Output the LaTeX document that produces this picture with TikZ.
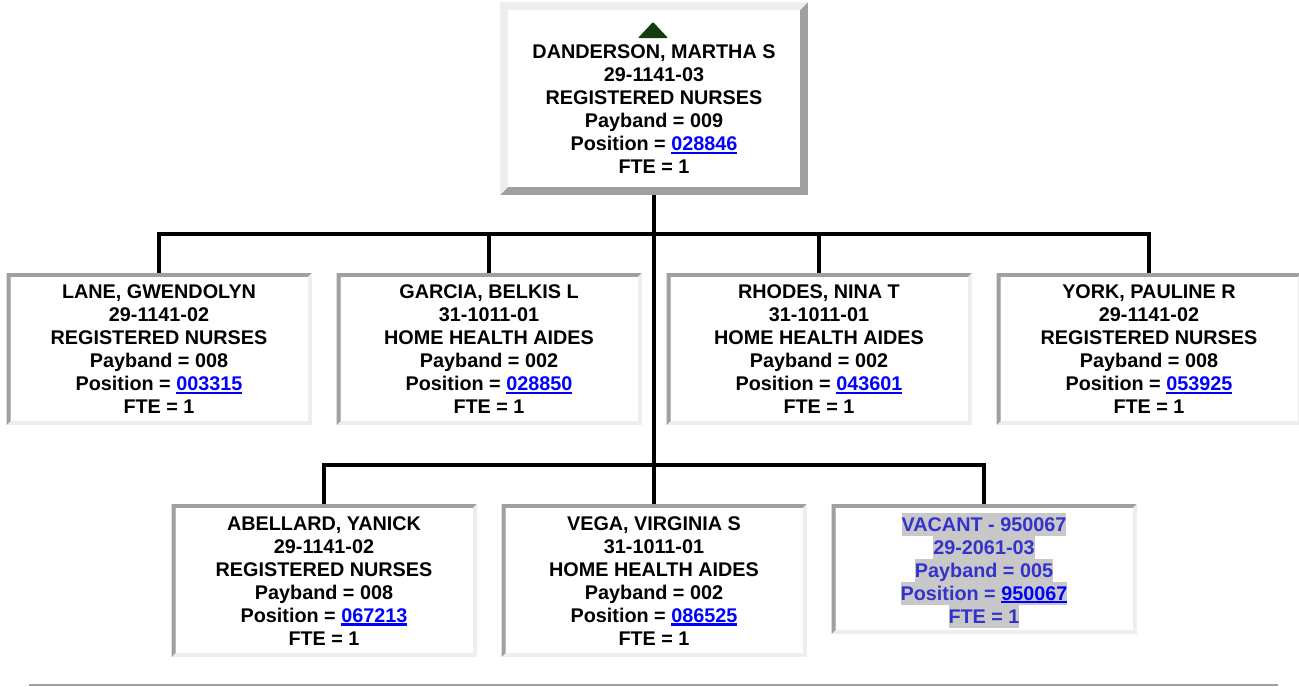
\documentclass[tikz,border=0pt]{standalone}
\usepackage{fontspec}
\setmainfont{Liberation Sans}
\usepackage{tikz}

\newlength{\px}
\setlength{\px}{0.75pt}

\definecolor{bordark}{HTML}{A0A0A0}
\definecolor{borlight}{HTML}{EEEEEE}
\definecolor{linkblue}{HTML}{0000FF}
\definecolor{vacblue}{HTML}{3333CC}
\definecolor{hlgray}{HTML}{C8C8C8}
\definecolor{trigreen}{HTML}{103E10}

\newcommand{\lnk}[1]{\textcolor{linkblue}{\setbox0\hbox{#1}\rlap{\rule[-2.6pt]{\wd0}{1.8pt}}\box0}}
\newcommand{\hlbox}[1]{{\fboxsep=0pt\colorbox{hlgray}{\rule[-3.375pt]{0pt}{17.25pt}#1}}}

\tikzset{
  inset/.style={rectangle, inner sep=0pt, minimum width=305*\px, minimum height=152*\px, fill=borlight,
    path picture={
      \fill[bordark] (path picture bounding box.south west) -- (path picture bounding box.north west)
        -- (path picture bounding box.north east) -- ([shift={(-4*\px,-4*\px)}]path picture bounding box.north east)
        -- ([shift={(4*\px,-4*\px)}]path picture bounding box.north west)
        -- ([shift={(4*\px,4*\px)}]path picture bounding box.south west) -- cycle;
      \fill[white] ([shift={(4*\px,4*\px)}]path picture bounding box.south west)
        rectangle ([shift={(-4*\px,-4*\px)}]path picture bounding box.north east);
    }},
  outset/.style={rectangle, inner sep=0pt, minimum width=308*\px, minimum height=193*\px, fill=bordark,
    path picture={
      \fill[borlight] (path picture bounding box.south west) -- (path picture bounding box.north west)
        -- (path picture bounding box.north east) -- ([shift={(-8*\px,-8*\px)}]path picture bounding box.north east)
        -- ([shift={(8*\px,-8*\px)}]path picture bounding box.north west)
        -- ([shift={(8*\px,8*\px)}]path picture bounding box.south west) -- cycle;
      \fill[white] ([shift={(8*\px,8*\px)}]path picture bounding box.south west)
        rectangle ([shift={(-8*\px,-8*\px)}]path picture bounding box.north east);
    }},
  txt/.style={font=\fontsize{14.85pt}{17.25pt}\selectfont\bfseries, align=center, inner sep=0pt, anchor=north},
  wire/.style={black, line width=4*\px}
}

\begin{document}
\begin{tikzpicture}[x=0.75pt, y=-0.75pt]
    \useasboundingbox (0,0) rectangle (1299,686);

    % 1. Supervisor box
    \node[outset] (top) at (654,98.5) {};
    \fill[trigreen, rounded corners=0.75pt] (638,38) -- (653,22) -- (668,38) -- cycle;
    \node[txt] (top-t) at ([yshift=-43*\px]top.north)
        {DANDERSON, MARTHA S\\29-1141-03\\REGISTERED NURSES\\Payband = 009\\Position = \lnk{028846}\\FTE = 1};

    % 2. First row of reports
    \foreach \x/\nm/\who/\code/\job/\pb/\pos in {
        159/lane/{LANE, GWENDOLYN}/29-1141-02/REGISTERED NURSES/008/003315,
        489/garcia/{GARCIA, BELKIS L}/31-1011-01/HOME HEALTH AIDES/002/028850,
        819/rhodes/{RHODES, NINA T}/31-1011-01/HOME HEALTH AIDES/002/043601,
        1149/york/{YORK, PAULINE R}/29-1141-02/REGISTERED NURSES/008/053925} {
        \node[inset] (\nm) at (\x,349) {};
        \node[txt] (\nm-t) at ([yshift=-12*\px]\nm.north)
            {\who\\\code\\\job\\Payband = \pb\\Position = \lnk{\pos}\\FTE = 1};
    }

    % 3. Second row of reports
    \foreach \x/\nm/\who/\code/\job/\pb/\pos in {
        324/abellard/{ABELLARD, YANICK}/29-1141-02/REGISTERED NURSES/008/067213,
        654/vega/{VEGA, VIRGINIA S}/31-1011-01/HOME HEALTH AIDES/002/086525} {
        \node[inset, minimum height=153*\px] (\nm) at (\x,580.5) {};
        \node[txt] (\nm-t) at ([yshift=-12.5*\px]\nm.north)
            {\who\\\code\\\job\\Payband = \pb\\Position = \lnk{\pos}\\FTE = 1};
    }

    % Vacant position
    \node[inset, minimum height=130*\px] (vacant) at (984,569) {};
    \node[txt, text=vacblue] (vacant-t) at ([yshift=-8.5*\px]vacant.north)
        {\hlbox{VACANT - 950067}\\\hlbox{29-2061-03}\\\hlbox{Payband = 005}\\\hlbox{Position = \lnk{950067}}\\\hlbox{FTE = 1}};

    % 4. Connectors
    \coordinate (j1) at (654,234);
    \coordinate (j2) at (654,465);
    \draw[wire] (top.south) -- (j2);
    \foreach \n in {lane,garcia,rhodes,york}
        \draw[wire] (j1) -| (\n.north);
    \foreach \n in {abellard,vega,vacant}
        \draw[wire] (j2) -| (\n.north);

    % bottom rule
    \draw[bordark, line width=2.5*\px] (29,684.8) -- (1278,684.8);

\end{tikzpicture}
\end{document}
